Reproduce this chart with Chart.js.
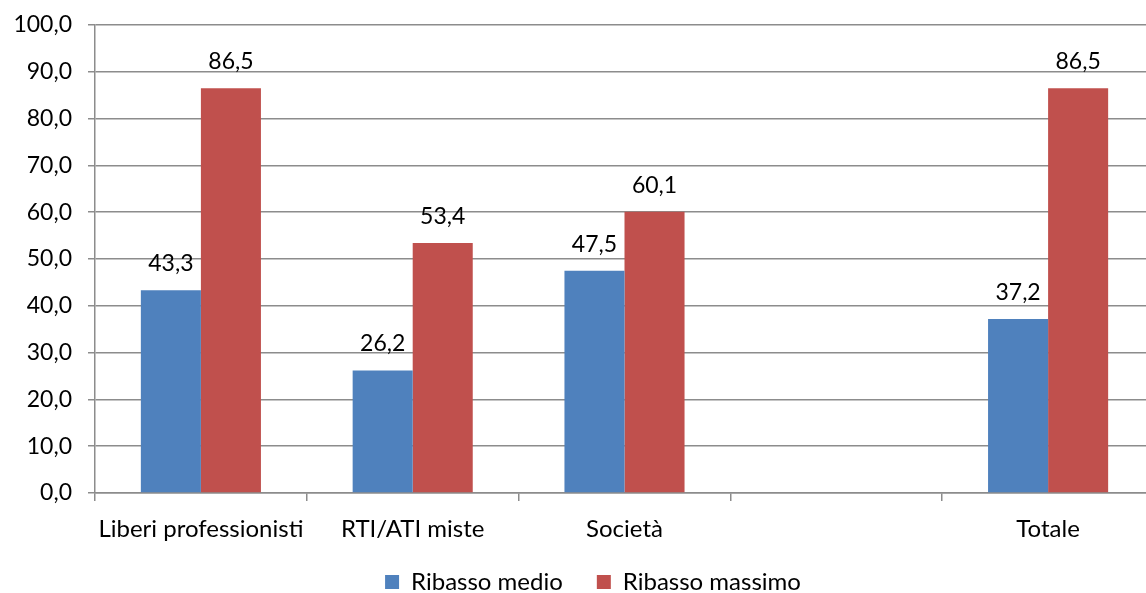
<!DOCTYPE html>
<html>
<head>
<meta charset="utf-8">
<script src="https://cdn.jsdelivr.net/npm/chart.js@4/dist/chart.umd.min.js"></script>
<style>
  html, body { margin: 0; padding: 0; background: #fff; overflow: hidden; }
  #wrap { width: 1154px; height: 625px; }
</style>
</head>
<body>
<div id="wrap"><canvas id="chart"></canvas></div>
<script>
// dati
const categorie = ["Liberi professionisti", "RTI/ATI miste", "Società", "", "Totale"];
const ribassoMedio = [43.3, 26.2, 47.5, null, 37.2];
const ribassoMassimo = [86.5, 53.4, 60.1, null, 86.5];

const FONT = "Lato, 'Open Sans', sans-serif";
const SIZE = 23;
const GRIGIO = "#8c8c8c";

function fmt(v) {
    return v.toFixed(1).replace(".", ",");
}

// etichette sopra le barre
const etichette = {
    id: "etichette",
    afterLayout(chart) {
        // legenda spostata come nell'originale
        chart.legend.left += 32;
        chart.legend.top -= 21;
    },
    afterDatasetsDraw(chart) {
        const ctx = chart.ctx;
        ctx.save();
        ctx.font = SIZE + "px " + FONT;
        ctx.fillStyle = "#000";
        ctx.textAlign = "center";
        ctx.textBaseline = "alphabetic";
        chart.data.datasets.forEach((ds, i) => {
            chart.getDatasetMeta(i).data.forEach((bar, j) => {
                const v = ds.data[j];
                if (v == null) return;
                ctx.fillText(fmt(v), bar.x, bar.y - 19);
            });
        });
        ctx.restore();
    }
};

new Chart(document.getElementById("chart"), {
    type: "bar",
    data: {
        labels: categorie,
        datasets: [
            { label: "Ribasso medio", data: ribassoMedio, backgroundColor: "#4F81BD" },
            { label: "Ribasso massimo", data: ribassoMassimo, backgroundColor: "#C0504D" }
        ]
    },
    options: {
        responsive: true,
        maintainAspectRatio: false,
        animation: false,
        categoryPercentage: 0.567,
        barPercentage: 1,
        layout: { padding: { top: 25, right: 0, left: 0, bottom: 0 } },
        plugins: {
            legend: {
                position: "bottom",
                labels: {
                    font: { family: FONT, size: 24 },
                    color: "#000",
                    boxWidth: 14,
                    boxHeight: 14,
                    padding: 34
                }
            },
            tooltip: { enabled: false }
        },
        scales: {
            y: {
                min: 0,
                max: 100,
                ticks: {
                    stepSize: 10,
                    color: "#000",
                    font: { family: FONT, size: SIZE },
                    padding: 16,
                    callback: v => fmt(v)
                },
                grid: { color: GRIGIO, lineWidth: 1.5, tickLength: 7 },
                border: { color: GRIGIO, width: 1.5 },
                afterFit: s => { s.width = 95; s.paddingTop = 0; s.paddingBottom = 0; }
            },
            x: {
                ticks: {
                    color: "#000",
                    font: { family: FONT, size: 24 },
                    padding: 14
                },
                grid: { offset: true, drawOnChartArea: false, color: GRIGIO, lineWidth: 1.5, tickLength: 8 },
                border: { color: GRIGIO, width: 1.5 },
                afterFit: s => { s.height = 64; s.paddingLeft = 0; s.paddingRight = 0; }
            }
        }
    },
    plugins: [etichette]
});
</script>
</body>
</html>
